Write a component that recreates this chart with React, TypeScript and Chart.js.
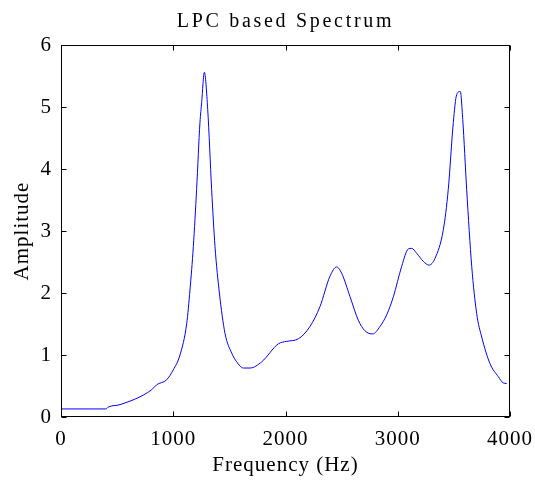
import React, { useEffect, useRef } from "react";
import { Chart, registerables } from "chart.js";

Chart.register(...registerables);

const chartTitle = "LPC based Spectrum";
const xAxisLabel = "Frequency (Hz)";
const yAxisLabel = "Amplitude";

const freqHz = [
  0, 400, 421, 526, 808, 852, 941, 1000, 1060, 1120, 1149, 1179, 1208, 1238, 1253, 1277,
  1307, 1342, 1372, 1411, 1461, 1521, 1565, 1625, 1684, 1788, 1936, 2010, 2114, 2218, 2307,
  2396, 2456, 2500, 2575, 2649, 2708, 2777, 2842, 2902, 2961, 3035, 3094, 3124, 3169, 3228,
  3278, 3332, 3406, 3450, 3495, 3525, 3557, 3579, 3614, 3659, 3703, 3748, 3822, 3896, 3940, 3970,
];
const amplitude = [
  0.13, 0.13, 0.16, 0.2, 0.44, 0.52, 0.6, 0.76, 1.0, 1.51, 2.05, 2.75, 3.67, 4.75, 5.07, 5.56,
  4.96, 3.67, 2.75, 2.0, 1.35, 1.03, 0.89, 0.79, 0.79, 0.89, 1.18, 1.22, 1.26, 1.46, 1.78,
  2.27, 2.42, 2.32, 1.94, 1.56, 1.39, 1.34, 1.46, 1.65, 1.94, 2.43, 2.71, 2.72, 2.64, 2.51,
  2.45, 2.56, 3.02, 3.67, 4.75, 5.2, 5.25, 4.8, 3.67, 2.43, 1.67, 1.29, 0.86, 0.65, 0.55, 0.54,
];
const xTicks = [0, 1000, 2000, 3000, 4000];
const yTicks = [0, 1, 2, 3, 4, 5, 6];

const FONT = "Liberation Serif";

export default function App() {
  const ref = useRef<HTMLCanvasElement>(null);

  useEffect(() => {
    document.body.style.margin = "0";
    const canvas = ref.current;
    if (!canvas) return;

    const spacing = {
      id: "spacing",
      beforeDraw(chart: any) {
        chart.ctx.letterSpacing = "1px";
      },
    };

    const frame = {
      id: "frame",
      afterDraw(chart: any) {
        const { ctx, chartArea: a, scales } = chart;
        ctx.save();
        ctx.strokeStyle = "#000";
        ctx.lineWidth = 1;
        const L = Math.round(a.left) + 0.5;
        const R = Math.round(a.right) - 0.5;
        const T = Math.round(a.top) + 0.5;
        const B = Math.round(a.bottom) - 0.5;
        ctx.strokeRect(L, T, R - L, B - T);
        const tl = 5;
        ctx.beginPath();
        xTicks.forEach((v) => {
          const x = Math.round(scales.x.getPixelForValue(v)) + 0.5;
          ctx.moveTo(x, B);
          ctx.lineTo(x, B - tl);
          ctx.moveTo(x, T);
          ctx.lineTo(x, T + tl);
        });
        yTicks.forEach((v) => {
          const y = Math.round(scales.y.getPixelForValue(v)) + 0.5;
          ctx.moveTo(L, y);
          ctx.lineTo(L + tl, y);
          ctx.moveTo(R, y);
          ctx.lineTo(R - tl, y);
        });
        ctx.stroke();

        ctx.letterSpacing = "2.7px";
        ctx.fillStyle = "#000";
        ctx.font = `20px "${FONT}"`;
        ctx.textAlign = "center";
        ctx.textBaseline = "alphabetic";
        ctx.fillText(chartTitle, (a.left + a.right) / 2, 26.5);
        ctx.restore();
      },
    };

    const chart = new Chart(canvas, {
      type: "line",
      data: {
        datasets: [
          {
            data: freqHz.map((f, i) => ({ x: f, y: amplitude[i] })),
            borderColor: "#0000ff",
            borderWidth: 1,
            pointRadius: 0,
            fill: false,
            cubicInterpolationMode: "monotone",
          },
        ],
      },
      options: {
        responsive: false,
        animation: false,
        layout: { padding: { top: 45, right: 25, left: 0, bottom: 0 } },
        plugins: {
          legend: { display: false },
          tooltip: { enabled: false },
          title: { display: false },
        },
        scales: {
          x: {
            type: "linear",
            min: 0,
            max: 4000,
            afterFit: (s: any) => {
              s.height = 64;
              s.paddingLeft = 0;
              s.paddingRight = 0;
            },
            afterBuildTicks: (s: any) => {
              s.ticks = xTicks.map((v) => ({ value: v }));
            },
            grid: { display: false, drawTicks: false },
            border: { display: false },
            ticks: {
              color: "#000",
              padding: 10,
              maxRotation: 0,
              font: { family: FONT, size: 21 },
              callback: (v: any) => String(v),
            },
            title: {
              display: true,
              text: xAxisLabel,
              color: "#000",
              font: { family: FONT, size: 21 },
              padding: { top: 0, bottom: 3 },
            },
          },
          y: {
            type: "linear",
            min: 0,
            max: 6,
            afterFit: (s: any) => {
              s.width = 61;
              s.paddingTop = 0;
              s.paddingBottom = 0;
            },
            afterBuildTicks: (s: any) => {
              s.ticks = yTicks.map((v) => ({ value: v }));
            },
            grid: { display: false, drawTicks: false },
            border: { display: false },
            ticks: {
              color: "#000",
              padding: 9,
              font: { family: FONT, size: 21 },
              callback: (v: any) => String(v),
            },
            title: {
              display: true,
              text: yAxisLabel,
              color: "#000",
              font: { family: FONT, size: 21 },
              padding: { top: 10, bottom: 0 },
            },
          },
        },
      },
      plugins: [spacing, frame],
    } as any);

    return () => chart.destroy();
  }, []);

  return <canvas ref={ref} width={535} height={481} style={{ display: "block" }} />;
}
